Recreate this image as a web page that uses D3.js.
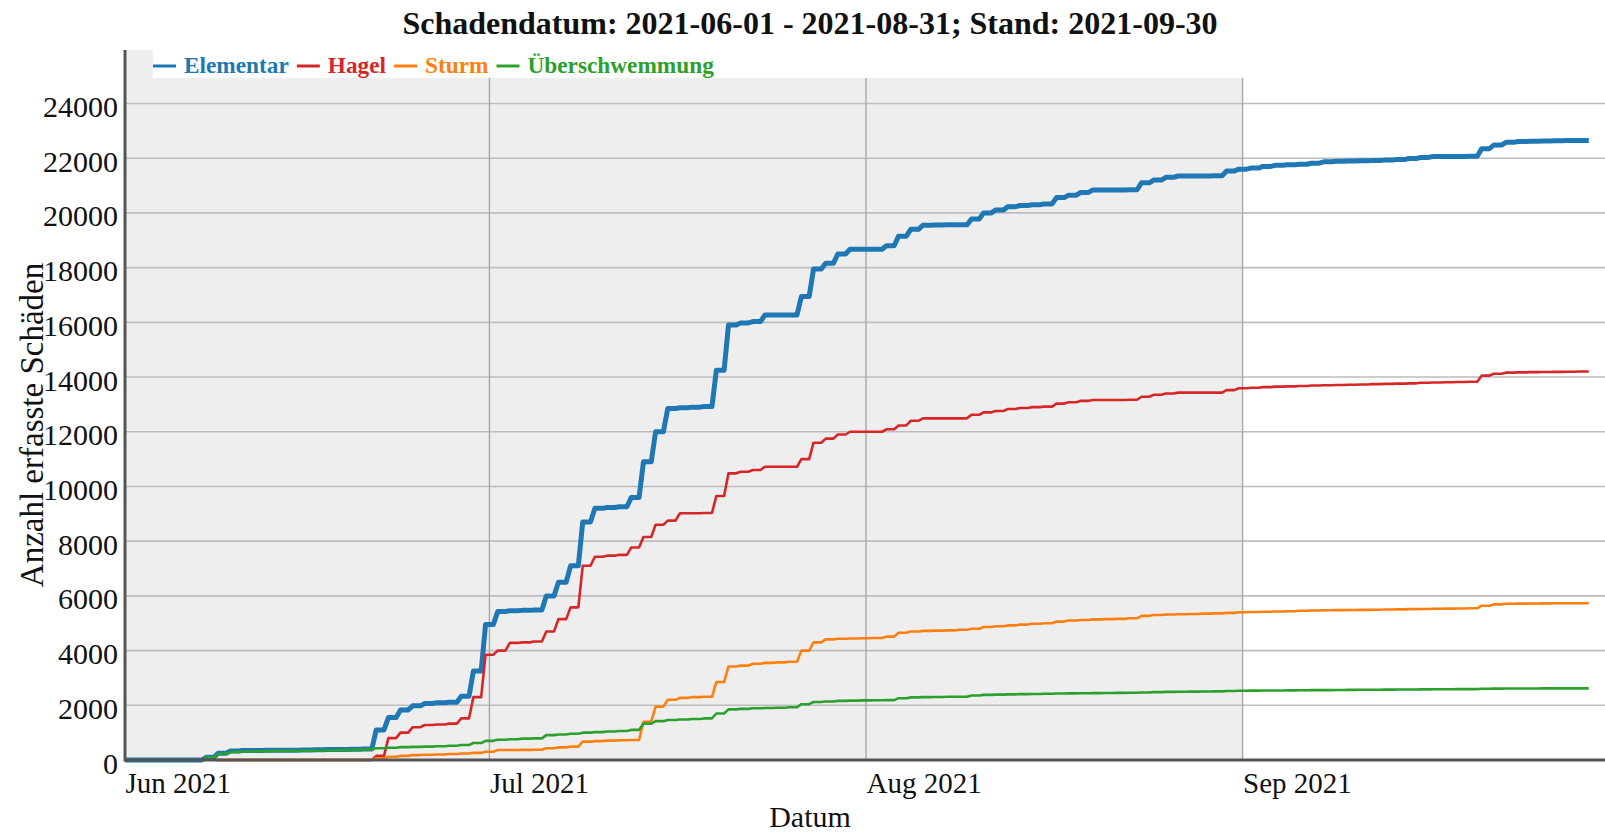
<!DOCTYPE html>
<html>
<head>
<meta charset="utf-8">
<script src="https://cdn.jsdelivr.net/npm/d3@7"></script>
<style>
  html, body { margin: 0; padding: 0; background: #fff; }
  svg { display: block; }
  text { font-family: "Liberation Serif", "Times New Roman", serif; fill: #111; }
</style>
</head>
<body>
<svg id="chart" width="1605" height="833"></svg>
<script>
// ---------------- data ----------------
const titleText = "Schadendatum: 2021-06-01 - 2021-08-31; Stand: 2021-09-30";
const yTitle = "Anzahl erfasste Schäden";
const xTitle = "Datum";
const seriesNames = ["Elementar", "Hagel", "Sturm", "Überschwemmung"];
const seriesColors = ["#1f77b4", "#d62728", "#ff7f0e", "#2ca02c"];
const seriesWidths = [5, 2.6, 2.6, 2.6];
const startDay = "2021-06-01";
const yTicks = [0, 2000, 4000, 6000, 8000, 10000, 12000, 14000, 16000, 18000, 20000, 22000, 24000];
const xTicks = ["2021-06-01", "2021-07-01", "2021-08-01", "2021-09-01"];
const shadedEnd = "2021-09-01";

// daily cumulative counts, one value per day starting 2021-06-01 (null = no data yet)
const elementar = [
  0, 0, 0, 0, 0, 0, 0,
  100, 250, 330, 350, 350, 355, 355,
  360, 370, 375, 380, 385, 390, 400,
  1100, 1550, 1830, 1980, 2070, 2090, 2110,
  2330, 3250, 4950, 5430, 5460, 5470, 5480,
  6000, 6500, 7100, 8700, 9200, 9230, 9260,
  9600, 10900, 12000, 12850, 12880, 12900, 12920,
  14250, 15900, 15980, 16030, 16270, 16270, 16270,
  16940, 17950, 18160, 18500, 18670, 18670, 18670,
  18800, 19150, 19400, 19550, 19560, 19570, 19570,
  19780, 20000, 20110, 20230, 20270, 20300, 20330,
  20560, 20650, 20750, 20840, 20840, 20840, 20850,
  21100, 21200, 21300, 21350, 21350, 21350, 21360,
  21530, 21600, 21640, 21700, 21740, 21760, 21780,
  21820, 21870, 21890, 21900, 21910, 21920, 21930,
  21950, 21990, 22030, 22060, 22060, 22060, 22070,
  22350, 22480, 22580, 22610, 22620, 22630, 22640,
  22645, 22650
];
const hagel = [
  null, null, null, null, null, null, null,
  null, 0, 0, 0, 0, 0, 0,
  0, 0, 0, 0, 0, 0, 0,
  150, 800, 1000, 1200, 1280, 1300, 1330,
  1520, 2300, 3850, 4000, 4280, 4300, 4330,
  4700, 5150, 5580, 7100, 7430, 7470, 7500,
  7770, 8150, 8600, 8750, 9020, 9020, 9030,
  9650, 10480, 10540, 10600, 10720, 10720, 10720,
  11000, 11600, 11750, 11900, 12000, 12000, 12000,
  12090, 12230, 12400, 12490, 12490, 12490, 12490,
  12620, 12710, 12760, 12830, 12870, 12900, 12920,
  13030, 13080, 13130, 13160, 13160, 13160, 13170,
  13280, 13350, 13400, 13430, 13430, 13430, 13430,
  13520, 13590, 13610, 13630, 13650, 13660, 13670,
  13690, 13700, 13710, 13720, 13730, 13740, 13750,
  13760, 13770, 13790, 13800, 13810, 13820, 13830,
  14050, 14120, 14160, 14170, 14180, 14185, 14190,
  14195, 14200
];
const sturm = [
  null, null, null, null, null, null, null,
  null, 0, 0, 0, 0, 0, 0,
  0, 0, 0, 0, 0, 0, 0,
  60, 120, 150, 180, 190, 200, 220,
  240, 260, 300, 365, 365, 370, 375,
  430, 460, 490, 670, 690, 710, 720,
  730, 1400, 1950, 2200, 2270, 2300, 2310,
  2850, 3420, 3450, 3520, 3550, 3570, 3590,
  4000, 4300, 4410, 4430, 4440, 4450, 4460,
  4510, 4650, 4700, 4720, 4730, 4740, 4760,
  4800, 4860, 4890, 4920, 4950, 4980, 5000,
  5060, 5100, 5120, 5140, 5150, 5160, 5180,
  5270, 5300, 5320, 5330, 5340, 5350, 5360,
  5380, 5400, 5410, 5420, 5430, 5440, 5455,
  5465, 5475, 5480, 5485, 5490, 5495, 5500,
  5505, 5515, 5520, 5530, 5535, 5540, 5545,
  5640, 5690, 5710, 5715, 5720, 5725, 5728,
  5730, 5730
];
const ueberschwemmung = [
  null, null, null, null, null, null, null,
  100, 220, 290, 310, 320, 325, 330,
  335, 340, 345, 350, 360, 370, 390,
  430, 450, 470, 480, 490, 500, 520,
  550, 620, 700, 740, 760, 780, 790,
  910, 930, 960, 1000, 1020, 1040, 1060,
  1100, 1330, 1420, 1460, 1480, 1500, 1520,
  1700, 1850, 1870, 1890, 1900, 1910, 1930,
  2040, 2120, 2140, 2160, 2170, 2180, 2185,
  2190, 2260, 2290, 2300, 2305, 2310, 2315,
  2360, 2380, 2390, 2400, 2410, 2415, 2420,
  2430, 2435, 2440, 2445, 2450, 2455, 2460,
  2470, 2480, 2490, 2495, 2500, 2505, 2510,
  2520, 2530, 2535, 2540, 2543, 2546, 2550,
  2553, 2556, 2560, 2563, 2566, 2570, 2573,
  2576, 2580, 2583, 2586, 2588, 2590, 2592,
  2605, 2610, 2612, 2614, 2616, 2617, 2618,
  2619, 2620
];
const seriesValues = [elementar, hagel, sturm, ueberschwemmung];

// ---------------- chart ----------------
const W = 1605, H = 833;
const left = 125, bottom = 760, axisTop = 50, shadeTop = 78;
const parse = d3.timeParse("%Y-%m-%d");
const start = parse(startDay);

const x = d3.scaleTime()
  .domain([start, parse("2021-10-01")])
  .range([left, 1607]);
const y = d3.scaleLinear().domain([0, 24000]).range([bottom, 103.5]);

const svg = d3.select("#chart");

// plot background
const xShadeEnd = x(parse(shadedEnd));
svg.append("rect").attr("x", left).attr("y", shadeTop)
  .attr("width", xShadeEnd - left).attr("height", bottom - shadeTop).attr("fill", "#eeeeee");
svg.append("rect").attr("x", left).attr("y", axisTop)
  .attr("width", 28).attr("height", shadeTop - axisTop).attr("fill", "#eeeeee");

// horizontal grid
svg.append("g").selectAll("line").data(yTicks).join("line")
  .attr("x1", left).attr("x2", W)
  .attr("y1", d => y(d)).attr("y2", d => y(d))
  .attr("stroke", "#bdbdbd").attr("stroke-width", 1.6);

// vertical grid
svg.append("g").selectAll("line").data(xTicks.slice(1).map(parse)).join("line")
  .attr("x1", d => x(d)).attr("x2", d => x(d))
  .attr("y1", shadeTop).attr("y2", bottom)
  .attr("stroke", "#a8a8a8").attr("stroke-width", 1.4);

// step curve with slightly slanted risers; each plateau is centred on its day
function slantStep(context) {
  const s = 2.2;
  let x0, y0, n;
  return {
    areaStart() {}, areaEnd() {},
    lineStart() { n = 0; },
    lineEnd() {
      if (n === 1) { context.moveTo(x0, y0); }
      if (n >= 1) context.lineTo(x0 + this._half, y0);
    },
    point(x, y) {
      x = +x; y = +y;
      if (n === 0) { x0 = x; y0 = y; n = 1; return; }
      const half = (x - x0) / 2;
      this._half = half;
      if (n === 1) context.moveTo(Math.max(left, x0 - half), y0);
      const m = x0 + half;
      if (y !== y0) { context.lineTo(m - s, y0); context.lineTo(m + s, y); }
      x0 = x; y0 = y; n++;
    }
  };
}

const line = d3.line()
  .defined(d => d != null)
  .x((d, i) => x(d3.timeDay.offset(start, i)))
  .y(d => y(d))
  .curve(slantStep);

svg.append("g").selectAll("path").data(seriesValues).join("path")
  .attr("d", d => line(d))
  .attr("fill", "none")
  .attr("stroke", (d, i) => seriesColors[i])
  .attr("stroke-width", (d, i) => seriesWidths[i])
  .attr("stroke-linejoin", "round")
  .attr("stroke-linecap", "butt");

// axes lines
svg.append("line").attr("x1", left).attr("x2", W).attr("y1", bottom).attr("y2", bottom)
  .attr("stroke", "#555").attr("stroke-width", 3);
svg.append("line").attr("x1", left).attr("x2", left).attr("y1", axisTop).attr("y2", bottom + 1.5)
  .attr("stroke", "#555").attr("stroke-width", 3);

// y axis labels
const yAxis = d3.axisLeft(y).tickValues(yTicks).tickSize(0).tickPadding(7).tickFormat(d3.format("d"));
const gy = svg.append("g").attr("transform", `translate(${left},0)`).call(yAxis);
gy.select(".domain").remove();
gy.selectAll("text").attr("dy", null).attr("y", 13)
  .style("font-family", '"Liberation Serif", "Times New Roman", serif')
  .style("font-size", "30px").attr("fill", "#111");

// x axis labels
const xAxis = d3.axisBottom(x).tickValues(xTicks.map(parse)).tickSize(0)
  .tickFormat(d3.timeFormat("%b %Y"));
const gx = svg.append("g").attr("transform", `translate(0,${bottom})`).call(xAxis);
gx.select(".domain").remove();
gx.selectAll("text").attr("dy", null).attr("y", 33).attr("text-anchor", "start")
  .style("font-family", '"Liberation Serif", "Times New Roman", serif')
  .style("font-size", "29px").attr("fill", "#111");

// titles
svg.append("text").attr("x", 810).attr("y", 34).attr("text-anchor", "middle")
  .style("font-size", "32px").style("font-weight", "bold").text(titleText);
svg.append("text").attr("x", 810).attr("y", 827).attr("text-anchor", "middle")
  .style("font-size", "30px").text(xTitle);
svg.append("text").attr("transform", "translate(43,425) rotate(-90)").attr("text-anchor", "middle")
  .style("font-size", "33px").text(yTitle);

// legend
const leg = svg.append("g");
leg.append("rect").attr("x", 153).attr("y", axisTop).attr("width", 562).attr("height", shadeTop - axisTop).attr("fill", "#fff");
let lx = 153;
seriesNames.forEach((name, i) => {
  leg.append("line").attr("x1", lx).attr("x2", lx + 23).attr("y1", 66).attr("y2", 66)
    .attr("stroke", seriesColors[i]).attr("stroke-width", 3);
  const t = leg.append("text").attr("x", lx + 31).attr("y", 73)
    .style("font-size", "23.3px").style("font-weight", "bold")
    .style("fill", seriesColors[i]).text(name);
  lx += 31 + t.node().getComputedTextLength() + 8;
});
</script>
</body>
</html>
